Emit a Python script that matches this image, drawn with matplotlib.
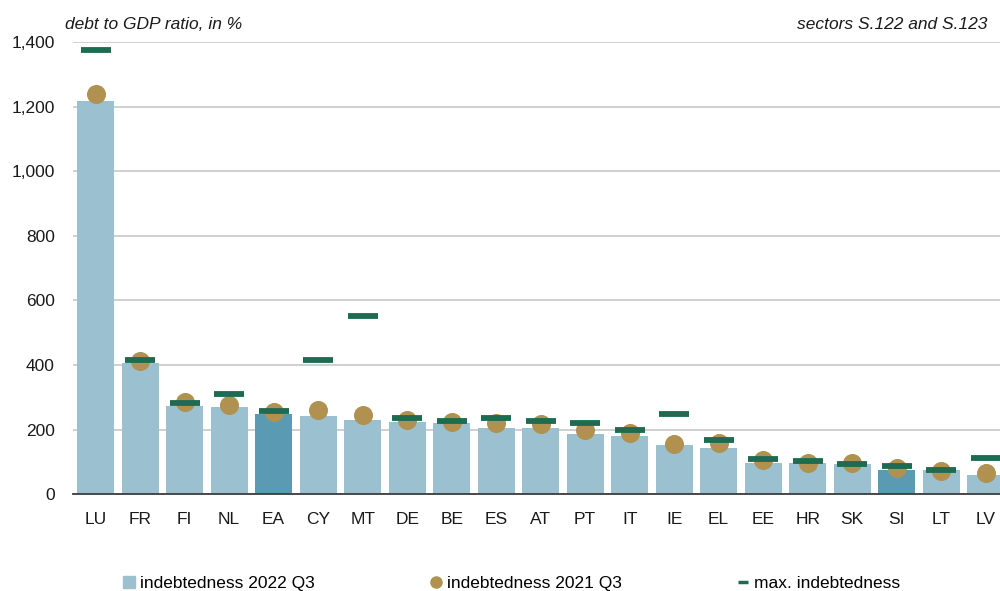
import matplotlib
matplotlib.use('Agg')
import matplotlib.pyplot as plt
from matplotlib.lines import Line2D
import numpy as np

plt.rcParams['font.family'] = ['Liberation Sans', 'DejaVu Sans']

# countries, sorted by 2022 Q3 indebtedness
countries = ['LU', 'FR', 'FI', 'NL', 'EA', 'CY', 'MT', 'DE', 'BE', 'ES', 'AT',
             'PT', 'IT', 'IE', 'EL', 'EE', 'HR', 'SK', 'SI', 'LT', 'LV']
debt_2022q3 = [1218, 407, 272, 269, 248, 242, 230, 225, 222, 206, 205,
               187, 179, 154, 144, 98, 96, 94, 75, 75, 59]
debt_2021q3 = [1240, 412, 285, 276, 255, 262, 247, 229, 223, 220, 217,
               199, 191, 156, 160, 105, 98, 96, 82, 71, 65]
debt_max = [1375, 416, 283, 310, 258, 416, 552, 236, 228, 236, 228,
            222, 200, 248, 169, 110, 104, 95, 88, 76, 113]
highlight = ['EA', 'SI']

c_bar = '#9bc0cf'
c_bar_hl = '#5b9ab3'
c_dot = '#b0914f'
c_max = '#1e6b52'
fs = 12.5

fig = plt.figure(figsize=(10.0, 5.91), dpi=100)
ax = fig.add_axes([0.0734, 0.1636, 0.9345, 0.7653])

x = np.arange(len(countries))
colors = [c_bar_hl if c in highlight else c_bar for c in countries]
ax.bar(x, debt_2022q3, width=0.83, color=colors, zorder=2)
ax.plot(x, debt_2021q3, 'o', color=c_dot, markersize=13.7, markeredgewidth=0, zorder=3)
ax.plot(x, debt_max, '_', color=c_max, markersize=21.6, markeredgewidth=4.2, zorder=4)

ax.set_xlim(-0.5, len(countries) - 0.5)
ax.set_ylim(0, 1400)
ax.set_yticks(range(0, 1401, 200))
ax.set_yticklabels(['{:,}'.format(v) for v in range(0, 1401, 200)])
ax.set_xticks(x)
ax.set_xticklabels(countries)
ax.tick_params(axis='both', length=0, labelsize=fs, colors='#1a1a1a')
ax.tick_params(axis='y', pad=13.5)
ax.tick_params(axis='x', pad=13)

ax.yaxis.grid(True, color='#cccccc', linewidth=1.3, zorder=0)
ax.set_axisbelow(True)
for s in ['top', 'right', 'left']:
    ax.spines[s].set_visible(False)
ax.spines['bottom'].set_color('#3c3c3c')
ax.spines['bottom'].set_linewidth(1.3)
ax.spines['bottom'].set_zorder(5)

fig.text(0.065, 0.958, 'debt to GDP ratio, in %', fontsize=fs, style='italic',
         ha='left', va='center', color='#1a1a1a')
fig.text(0.987, 0.958, 'sectors S.122 and S.123', fontsize=fs, style='italic',
         ha='right', va='center', color='#1a1a1a')

handles = [
    Line2D([], [], linestyle='none', marker='s', color=c_bar, markersize=8),
    Line2D([], [], linestyle='none', marker='o', color=c_dot, markersize=8),
    Line2D([], [], linestyle='none', marker='_', color=c_max, markersize=7.5, markeredgewidth=2.5),
]
labels = ['indebtedness 2022 Q3', 'indebtedness 2021 Q3', 'max. indebtedness']
fig.legend(handles, labels, loc='center left', bbox_to_anchor=(0.123, 0.0135),
           ncol=3, frameon=False, fontsize=fs, handlelength=0.7,
           handletextpad=0.3, columnspacing=6.6, borderpad=0, borderaxespad=0)

fig.savefig('out.png', dpi=100)
